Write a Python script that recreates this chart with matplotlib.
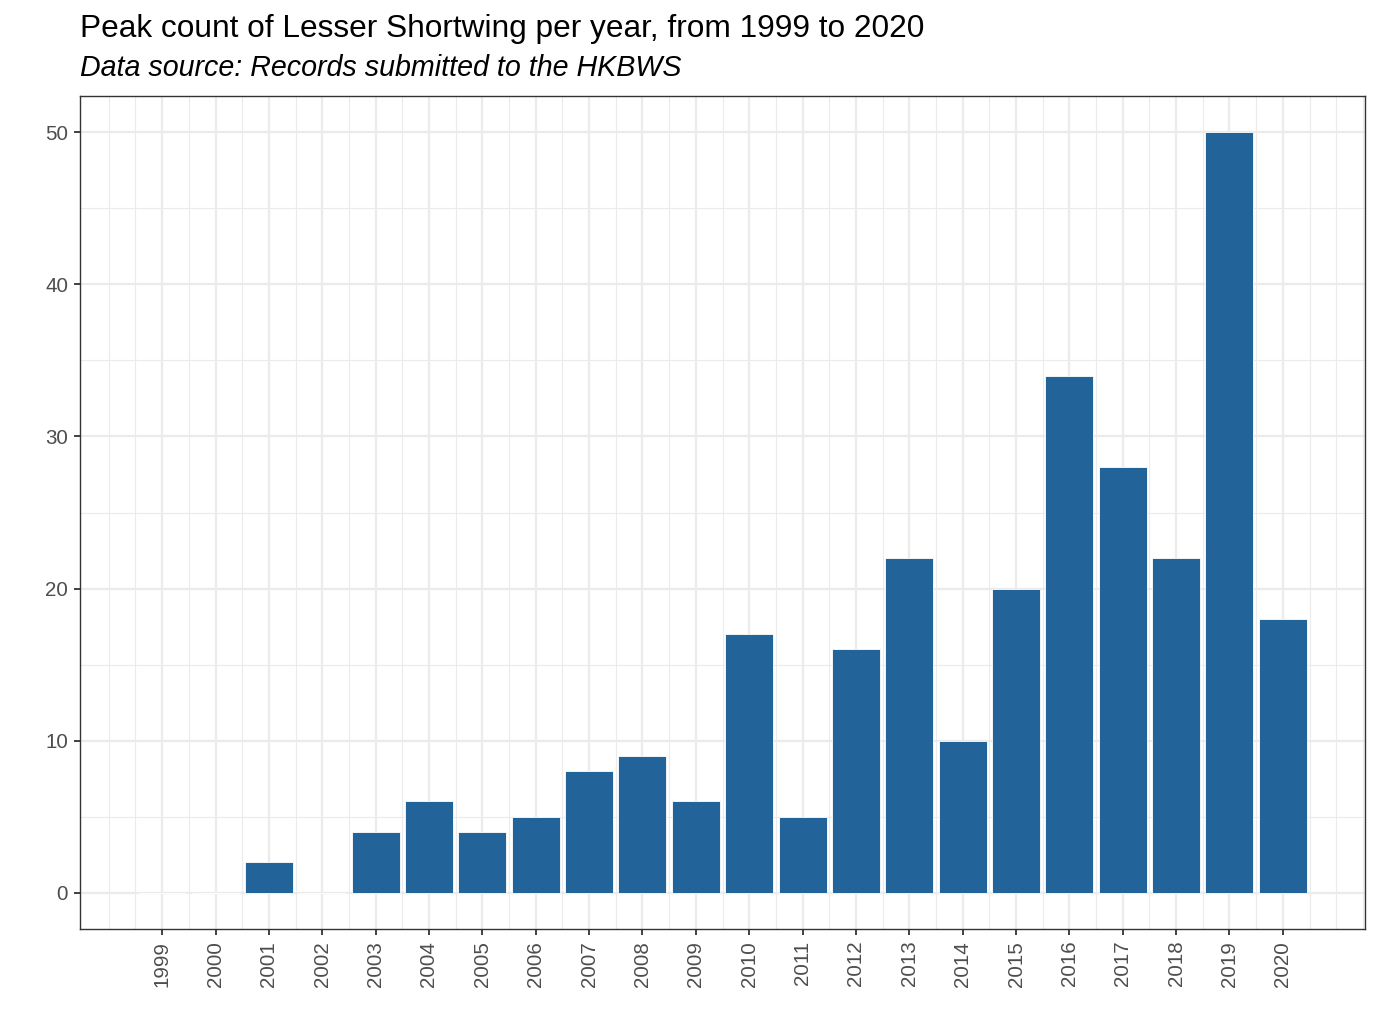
import numpy as np
import matplotlib
matplotlib.use("Agg")
import matplotlib.pyplot as plt

plt.rcParams['font.family'] = ['Liberation Sans', 'DejaVu Sans']

# Yıllar ve en yüksek sayımlar
years = [1999, 2000, 2001, 2002, 2003, 2004, 2005, 2006, 2007, 2008, 2009,
         2010, 2011, 2012, 2013, 2014, 2015, 2016, 2017, 2018, 2019, 2020]
counts = [0, 0, 2, 0, 4, 6, 4, 5, 8, 9, 6,
          17, 5, 16, 22, 10, 20, 34, 28, 22, 50, 18]
y_ticks = [0, 10, 20, 30, 40, 50]

fig = plt.figure(figsize=(13.79, 10.34), dpi=100)
ax = fig.add_axes([80 / 1379, 1 - 929 / 1034, (1365 - 80) / 1379, (929 - 96) / 1034])

ax.bar(years, counts, width=0.9, color='#22649A', edgecolor='white', linewidth=0.6, zorder=3)

ax.set_xticks(years)
ax.set_xticklabels([str(y) for y in years], rotation=90, fontsize=14.8, color='#4d4d4d')
ax.set_xticks(np.arange(1998, 2022, 0.5), minor=True)
ax.set_yticks(y_ticks)
ax.set_yticklabels([str(v) for v in y_ticks], fontsize=14.8, color='#4d4d4d')
ax.set_yticks(np.arange(5, 55, 10), minor=True)

# Eksen sınırları (tick ayarlarından sonra)
ax.set_xlim(1997.46, 2021.54)
ax.set_ylim(-2.4, 52.4)

ax.grid(which='major', color='#ebebeb', linewidth=1.6, zorder=0)
ax.grid(which='minor', color='#ebebeb', linewidth=0.8, zorder=0)
ax.tick_params(which='major', length=4.5, width=1.3, color='#333333', pad=4)
ax.tick_params(which='minor', length=0)
for s in ax.spines.values():
    s.set_color('#333333')
    s.set_linewidth(1.0)

fig.text(80 / 1379, 1 - 37 / 1034, 'Peak count of Lesser Shortwing per year, from 1999 to 2020',
         fontsize=22.75, va='baseline', ha='left')
fig.text(80 / 1379, 1 - 76.5 / 1034, 'Data source: Records submitted to the HKBWS',
         fontsize=20.65, style='italic', va='baseline', ha='left')

fig.savefig('out.png', dpi=100)
